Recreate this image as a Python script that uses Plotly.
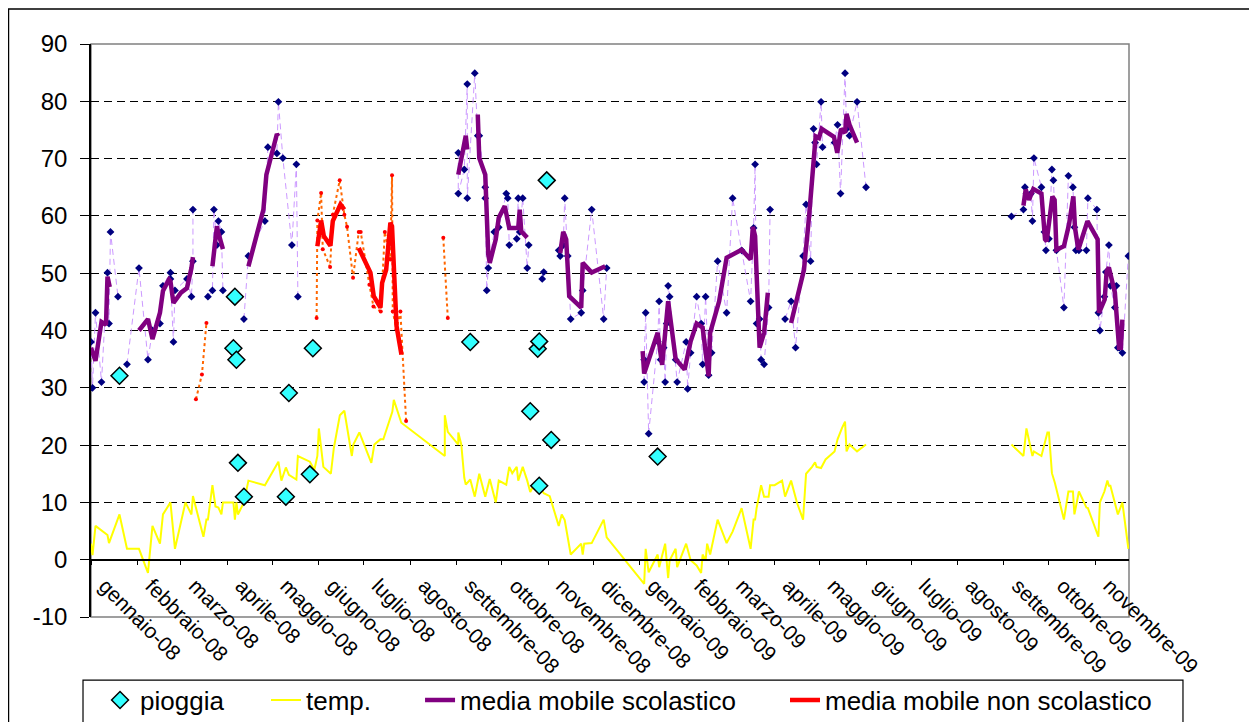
import pandas as pd
import plotly.graph_objects as go

# giorni contati dal 1 gennaio 2008; None = interruzione della serie
BASE = pd.Timestamp("2008-01-01")

MESI = ["gennaio-08", "febbraio-08", "marzo-08", "aprile-08", "maggio-08", "giugno-08",
        "luglio-08", "agosto-08", "settembre-08", "ottobre-08", "novembre-08", "dicembre-08",
        "gennaio-09", "febbraio-09", "marzo-09", "aprile-09", "maggio-09", "giugno-09",
        "luglio-09", "agosto-09", "settembre-09", "ottobre-09", "novembre-09"]

Y_TICKS = [-10, 0, 10, 20, 30, 40, 50, 60, 70, 80, 90]
Y_LABELS = ["-10", "0", "10", "20", "30", "40", "50", "60", "70", "80", "90"]

# misure giorni scolastici
scuola_giorni = [0, 1, 3, 7, 11, 12, 13, 18, None,
                 24, 32, 38, 41, 46, 48, 53, 53, 55, 56, 64, 67, 68, 68, None,
                 78, 81, 82, 84, 85, 87, 88, None,
                 102, 105, 116, 118, 124, 125, 128, 134, 137, 138, None,
                 245, 245, 249, 251, 251, 256, 258, 259, 263, 263, 264, 265, 269, 272, 277, 278,
                 279, 284, 285, 286, 288, 291, 292, None,
                 301, 302, None,
                 312, 313, 315, 316, 318, 320, 327, 328, 334, 342, 344, None,
                 369, 369, 370, 372, 378, 379, 380, 382, 383, 384, 385, 386, 390, 391, 397, 398,
                 400, 404, 407, 408, 410, 412, 414, 418, 424, 428, 434, 440, 442, 443, 444, 446,
                 447, 449, 452, 453, None,
                 463, 467, 470, 475, 477, 480, 482, 483, 484, 487, 488, 496, 498, 500, 503, 504,
                 506, 511, 517, None,
                 614, 622, 623, 624, 627, 628, 629, 634, 636, 637, 639, 641, 642, 644, 649, 652,
                 655, 656, 657, 659, 664, 665, 671, 672, 673, 676, 677, 679, 680, 683, 684, 685,
                 686, 688, 692]
scuola_valori = [38.0, 30.0, 43.1, 31.0, 50.1, 41.2, 57.2, 45.9, None,
                 34.1, 50.9, 34.9, 40.0, 41.2, 47.8, 50.1, 49.0, 38.0, 47.0, 49.0, 45.9, 52.1, 61.1, None,
                 45.9, 47.0, 61.1, 54.9, 59.1, 57.2, 47.0, None,
                 42.0, 53.0, 59.1, 72.0, 70.9, 79.9, 70.1, 54.9, 69.0, 45.9, None,
                 71.0, 63.9, 68.1, 83.0, 63.1, 84.9, 74.0, 74.0, 65.0, 63.1, 47.0, 50.9, 57.2, 58.0, 63.9, 63.1,
                 54.9, 56.0, 63.1, 57.2, 63.1, 50.9, 54.9, None,
                 49.0, 50.2, None,
                 54.0, 53.0, 54.9, 63.1, 53.0, 42.0, 43.1, 47.0, 61.1, 42.0, 50.9, None,
                 31.0, 34.9, 43.1, 22.0, 38.1, 45.1, 34.9, 37.0, 31.0, 41.2, 47.8, 45.9, 34.9, 31.0, 38.0, 29.8,
                 36.1, 45.9, 41.2, 34.1, 45.9, 32.2, 36.1, 52.1, 43.1, 63.1, 54.0, 45.1, 57.9, 69.0, 41.2, 42.0,
                 34.9, 34.1, 44.0, 61.1, None,
                 42.0, 45.1, 37.0, 53.0, 62.0, 52.1, 75.2, 72.8, 69.0, 79.9, 72.0, 72.8, 75.9, 63.9, 84.9, 75.2,
                 74.0, 79.9, 65.0, None,
                 59.9, 61.1, 65.0, 63.9, 63.9, 59.1, 70.1, 65.0, 57.2, 54.0, 56.0, 68.1, 66.2, 54.0, 44.0, 67.0,
                 65.0, 58.0, 54.0, 54.0, 54.0, 63.1, 61.1, 43.1, 40.0, 45.9, 50.2, 54.9, 47.8, 44.0, 47.8, 37.0,
                 37.0, 36.1, 53.0]

# misure giorni non scolastici
non_scuola_giorni = [70, 74, 77, None,
                     150.5, 151, 153.5, 154.6, 159.5, 161.3, 165.9, 169, 170.8, 174.8, 178.6, 179.9,
                     185.7, 188.4, 193.3, 196, 199.7, 200.8, 201.3, 203.8, 206.4, 210.2, None,
                     235, 238]
non_scuola_valori = [28.0, 32.3, 41.3, None,
                     42.2, 59.2, 64.0, 54.2, 51.1, 60.2, 66.2, 60.2, 58.1, 49.2, 57.2, 57.2,
                     48.0, 44.2, 43.3, 57.2, 52.4, 67.1, 43.3, 40.2, 43.3, 24.2, None,
                     56.2, 42.2]

# media mobile scolastico
mm_scuola_giorni = [0, 3, 7, 10, 11, 12.5, None,
                    32, 38, 41, 46, 48, 52, 53, 55, 60, 64, 67, 68, None,
                    81, 84, 85, 88, None,
                    105, 115, 117, 124, 125, None,
                    245, 250, 251, None,
                    258, 259, 263, 265, 266, 270, 272, 276, 279, 285, 286, 287, 291, None,
                    313, 315, 317, 319, 327, 328, 334, 343, None,
                    368, 369, 378, 379.5, 381, 385, 390, 396, 400, 404, 408, 412, 413, 419, 424, 434,
                    440, 441.5, 443, 444.5, 446, 449, 451.5, None,
                    467, 471, 475.6, 479, 482, 483.4, 485.6, 487.4, 495.6, 497.8, 500.3, 503, 504, 506, 511, None,
                    622, 623.5, 625.7, 627.5, 628.6, 634, 636.4, 637.5, 641.3, 642.8, 644, 649, 652.4, 655.3,
                    656.4, 658.6, 664.7, 671.5, 672.4, 676.2, 677.5, 679, 680.6, 683, 685.8, 687, 688]
mm_scuola_valori = [37.0, 34.7, 41.5, 41.0, 49.4, 47.6, None,
                    40.0, 42.0, 38.5, 43.1, 46.9, 48.9, 48.6, 44.8, 46.6, 47.4, 50.9, 52.8, None,
                    51.2, 58.2, 57.0, 54.2, None,
                    51.2, 61.1, 67.2, 74.3, 73.9, None,
                    67.2, 74.0, 71.6, None,
                    77.7, 70.1, 67.2, 53.3, 51.8, 55.9, 59.7, 61.7, 57.9, 57.9, 61.1, 57.3, 56.2, None,
                    53.5, 57.2, 55.9, 46.0, 44.0, 51.8, 50.1, 51.2, None,
                    36.4, 32.5, 39.6, 36.5, 34.0, 45.1, 35.0, 33.2, 38.1, 41.2, 40.5, 32.0, 39.6, 45.1, 52.7, 54.1,
                    52.4, 58.1, 56.5, 46.6, 37.0, 39.6, 46.6, None,
                    41.3, 46.0, 50.6, 59.9, 68.7, 73.9, 73.6, 75.2, 73.8, 71.0, 75.2, 74.5, 77.8, 75.9, 72.8, None,
                    61.8, 64.6, 62.8, 63.9, 64.7, 63.9, 55.9, 55.6, 63.4, 62.8, 54.1, 54.7, 58.5, 63.4,
                    57.9, 54.1, 59.1, 55.9, 43.1, 45.4, 50.3, 51.0, 48.9, 46.6, 37.0, 37.0, 41.9]

# media mobile non scolastico
mm_non_scuola_giorni = [151, 153.5, 155.3, 159.7, 161.3, 166.4, 169, None,
                        178.6, 183, 186.4, 188.6, 193.1, 194.2, 196.9, 199.7, 200.8, 203.8, 207.1]
mm_non_scuola_valori = [54.7, 59.2, 56.5, 54.8, 59.1, 62.0, 61.1, None,
                        54.4, 51.8, 50.1, 46.0, 44.0, 48.3, 50.6, 58.8, 58.2, 40.8, 35.8]

# temperatura
temp_giorni = [0, 1, 3, 11, 12, 19, 24, 32, 38, 41, 46, 48, 53, 56, 63, 67, 68, 75, 77, 78,
               81, 83, 85, 87, 88, 95, 96, 97, 98, 102, 105, 116, 125, 127, 130, 132, 137, 138,
               146, 149, 151, 152, 155, 160, 162, 166, 169, 174, 175, 179, 187, 189, 193, 195,
               201, 202, 207, 211, 236, 236, 238, 245, 245, 247, 249, 250, 253, 256, 259, 263,
               266, 270, 272, 277, 279, 281, 284, 285, 288, 291, 293, 295, 299, 302, 306, 312,
               314, 316, 320, 327, 328, 329, 334, 342, 344, 369, 370, 372, 378, 379, 383, 385,
               386, 390, 391, 397, 400, 404, 407, 408, 410, 411, 413, 418, 424, 428, 434, 440,
               442, 443, 444, 447, 449, 452, 453, 456, 461, 463, 467, 471, 475, 477, 481, 483,
               484, 487, 490, 496, 498, 501, 503, 504, 506, 511, 517, None,
               614, 622, 624, 628, 629, 634, 638, 639, 641, 643, 649, 652, 655, 656, 659, 664,
               665, 672, 673, 676, 678, 679, 680, 683, 685, 688, 692]
temp_valori = [2.8, 0.8, 5.9, 4.3, 2.9, 7.9, 1.9, 1.9, -2.3, 5.9, 2.8, 7.9, 10.0, 1.9, 10.0, 7.9, 11.1, 4.0, 7.0, 7.0,
               13.0, 9.3, 9.1, 7.9, 10.0, 10.0, 7.0, 10.0, 7.9, 10.0, 13.8, 13.0, 17.1, 13.8, 16.1, 14.8, 14.0, 18.1,
               17.1, 15.7, 18.1, 22.9, 16.2, 15.0, 19.5, 25.2, 26.0, 18.1, 20.1, 22.2, 16.9, 20.1, 21.0, 21.0,
               25.8, 27.9, 23.9, 23.1, 18.1, 25.2, 22.3, 20.1, 22.2, 20.1, 14.3, 13.1, 14.0, 11.0, 15.0, 11.0,
               14.1, 10.0, 13.8, 13.1, 16.2, 15.1, 16.2, 13.8, 16.2, 13.8, 11.8, 12.8, 13.0, 11.6, 11.1, 5.9,
               7.9, 6.9, 0.9, 2.8, 0.9, 2.8, 2.9, 7.0, 3.9, -4.2, 1.9, -2.2, 0.9, -1.3, 2.8, -3.2,
               -0.1, 1.9, -1.3, 2.8, -0.1, -1.0, -2.3, 0.9, -0.1, 2.8, 0.9, 7.0, 2.9, 4.9, 9.0, 1.9,
               7.0, 7.0, 9.0, 13.0, 11.0, 11.0, 13.0, 13.0, 13.8, 11.0, 13.8, 9.9, 7.0, 15.0, 16.2, 17.0,
               16.2, 16.0, 17.5, 18.9, 21.0, 23.0, 24.1, 18.9, 20.1, 18.9, 20.1, None,
               20.1, 18.1, 22.9, 18.1, 18.9, 18.1, 22.2, 22.2, 15.1, 13.4, 7.0, 11.9, 11.9, 7.9, 11.9, 9.1,
               9.0, 4.0, 10.0, 11.9, 13.8, 12.9, 12.9, 9.9, 7.9, 10.0, 1.9]

# pioggia
pioggia_giorni = [19, 95, 96, 97, 98, 102, 130, 132, 146, 148, 253, 293, 298, 299, 299, 304, 307, 378]
pioggia_valori = [32.1, 36.9, 45.9, 34.9, 16.9, 11.0, 11.0, 29.1, 14.9, 36.9, 38.0, 25.9, 36.8, 38.1, 12.9,
                  66.2, 20.9, 18.0]

FONT = "Liberation Sans, Arial, sans-serif"


def to_dates(giorni):
    return [None if g is None else BASE + pd.Timedelta(days=g) for g in giorni]


def legend_box(x):
    return dict(
        orientation="h", x=x, y=-0.145, xanchor="left", yanchor="middle",
        font=dict(size=26, family=FONT), bgcolor="rgba(0,0,0,0)", borderwidth=0,
    )


fig = go.Figure()

fig.add_trace(go.Scatter(
    x=to_dates(temp_giorni), y=temp_valori, mode="lines", name="temp.",
    line=dict(color="#FFFF00", width=2), legend="legend2",
))
fig.add_trace(go.Scatter(
    x=to_dates(scuola_giorni), y=scuola_valori, mode="lines+markers", showlegend=False,
    line=dict(color="#CC99FF", width=1, dash="6px,4px"),
    marker=dict(color="#000080", size=6, symbol="diamond"),
))
fig.add_trace(go.Scatter(
    x=to_dates(non_scuola_giorni), y=non_scuola_valori, mode="lines+markers", showlegend=False,
    line=dict(color="#FF6600", width=2, dash="dot"),
    marker=dict(color="#FF0000", size=4),
))
fig.add_trace(go.Scatter(
    x=to_dates(mm_scuola_giorni), y=mm_scuola_valori, mode="lines",
    name="media mobile scolastico", line=dict(color="#800080", width=4.5), legend="legend3",
))
fig.add_trace(go.Scatter(
    x=to_dates(mm_non_scuola_giorni), y=mm_non_scuola_valori, mode="lines",
    name="media mobile non scolastico", line=dict(color="#FF0000", width=4.5), legend="legend4",
))
fig.add_trace(go.Scatter(
    x=to_dates(pioggia_giorni), y=pioggia_valori, mode="markers", name="pioggia",
    marker=dict(symbol="diamond", size=13, color="#33FFFF", line=dict(color="black", width=1.5)),
    legend="legend",
))

mesi_tick = pd.date_range("2008-01-01", "2009-11-01", freq="MS")

fig.update_layout(
    width=1249,
    height=714,
    margin=dict(l=83, r=128, t=36, b=105, autoexpand=False),
    paper_bgcolor="white",
    plot_bgcolor="white",
    font=dict(family=FONT, color="black"),
    showlegend=True,
    legend=legend_box(0.0087),
    legend2=legend_box(0.1686),
    legend3=legend_box(0.317),
    legend4=legend_box(0.6686),
    xaxis=dict(
        type="date",
        range=[BASE, pd.Timestamp("2009-11-23 10:00")],
        anchor="free", position=0.1,
        showline=True, linecolor="black", linewidth=1.5,
        ticks="outside", ticklen=5, tickcolor="black",
        tickvals=mesi_tick, ticktext=MESI, tickangle=45,
        ticklabelshift=14,
        tickfont=dict(size=21, family=FONT),
        showgrid=False, zeroline=False,
    ),
    yaxis=dict(
        range=[-10, 90], tickvals=Y_TICKS, ticktext=Y_LABELS,
        showline=True, linecolor="black", linewidth=1.5,
        ticks="outside", ticklen=9, tickcolor="black",
        ticklabelstandoff=8,
        tickfont=dict(size=24, family=FONT),
        showgrid=True, gridcolor="black", gridwidth=1, griddash="8px,5px",
        zeroline=False,
    ),
    shapes=[
        # cornice area del grafico
        dict(type="rect", xref="paper", yref="paper", x0=0, x1=1, y0=0, y1=1,
             line=dict(color="#808080", width=1.5), layer="between"),
        # riquadro legenda
        dict(type="rect", xref="paper", yref="paper", x0=-0.0077, x1=1.052, y0=-0.25, y1=-0.110,
             line=dict(color="black", width=1.2)),
        # bordo esterno
        dict(type="rect", xref="paper", yref="paper", x0=-0.0795, x1=1.1214, y0=-0.3, y1=1.0611,
             line=dict(color="black", width=1.5)),
    ],
)

fig.write_html("out.html")
